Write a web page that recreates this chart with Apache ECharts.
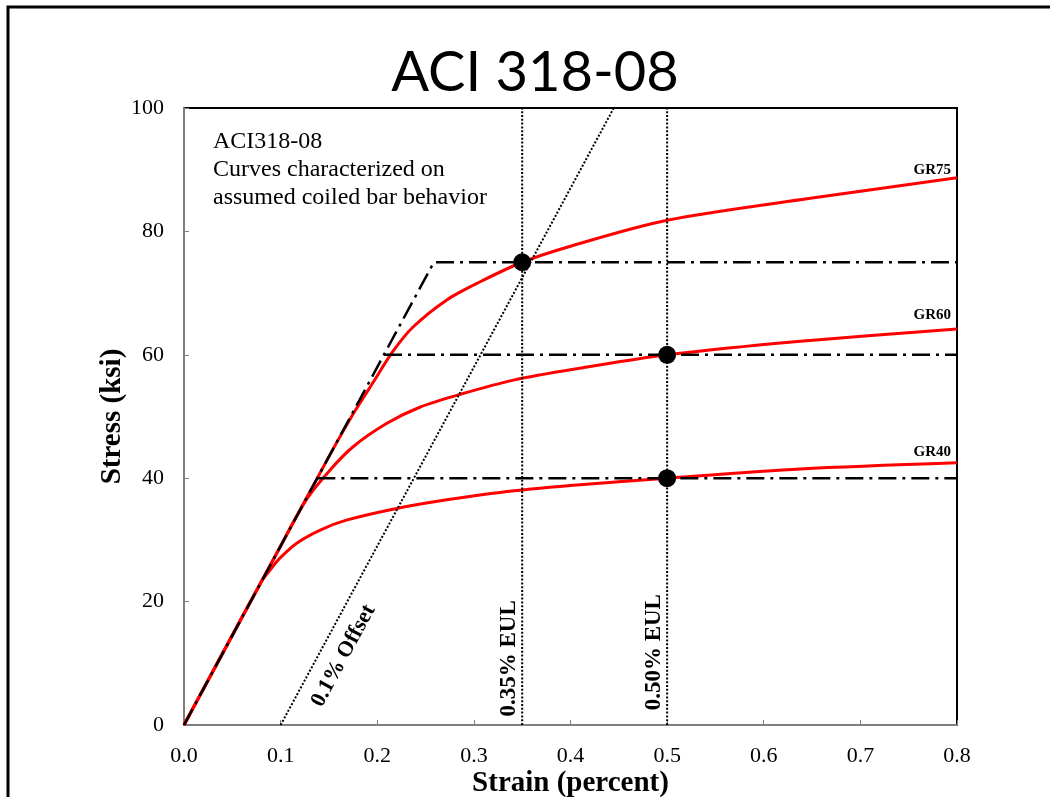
<!DOCTYPE html>
<html>
<head>
<meta charset="utf-8">
<script src="https://cdn.jsdelivr.net/npm/echarts@6/dist/echarts.min.js"></script>
<style>html,body{margin:0;padding:0;background:#fff;}#c{width:1050px;height:797px;}</style>
</head>
<body>
<div id="c"></div>
<script>
// ---- data ----
const xTicks = [0, 0.1, 0.2, 0.3, 0.4, 0.5, 0.6, 0.7, 0.8];
const yTicks = [0, 20, 40, 60, 80, 100];

const strainGR75 = [0, 0.10, 0.15, 0.175, 0.196, 0.216, 0.237, 0.272, 0.306, 0.35, 0.40, 0.50, 0.65, 0.80];
const stressGR75 = [0, 29.0, 43.5, 50.4, 55.6, 60.5, 64.5, 68.9, 71.8, 75.0, 77.6, 81.8, 85.4, 88.7];

const strainGR60 = [0, 0.10, 0.127, 0.151, 0.175, 0.210, 0.244, 0.286, 0.341, 0.413, 0.50, 0.638, 0.80];
const stressGR60 = [0, 29.0, 36.6, 41.3, 45.1, 48.9, 51.5, 53.6, 55.9, 57.9, 60.0, 62.2, 64.2];

const strainGR40 = [0, 0.08, 0.089, 0.099, 0.117, 0.141, 0.168, 0.220, 0.272, 0.327, 0.40, 0.50, 0.638, 0.80];
const stressGR40 = [0, 23.2, 25.1, 27.0, 29.5, 31.6, 33.2, 35.1, 36.5, 37.7, 38.8, 40.0, 41.5, 42.5];

const bilinearStrain = [0, 0.2586, 0.8];
const bilinearStress = [0, 75, 75];

const yieldLevels = [60, 40];
const yieldStartStrain = [0.207, 0.138];
const yieldEndStrain = 0.8;

const offsetStrain = [0.1, 0.4448];
const offsetStress = [0, 100];

const eulStrain = [0.35, 0.5];
const eulNames = ['0.35% EUL', '0.50% EUL'];

const markerStrain = [0.35, 0.5, 0.5];
const markerStress = [75, 60, 40];

const gradeNames = ['GR75', 'GR60', 'GR40'];
const gradeEndStress = [88.7, 64.2, 42.5];

const noteLines = ['ACI318-08', 'Curves characterized on', 'assumed coiled bar behavior'];

// ---- build ----
const zip = (a, b) => a.map((v, i) => [v, b[i]]);
const serif = '"Liberation Serif", "Times New Roman", serif';
const dashDot = [18, 6, 3, 6];
const dotted = [2, 1.8];
const redLine = { color: '#ff0000', width: 3 };

const series = [
  { name: 'GR75', type: 'line', data: zip(strainGR75, stressGR75), smooth: 0.3, symbol: 'none', lineStyle: redLine, z: 3 },
  { name: 'GR60', type: 'line', data: zip(strainGR60, stressGR60), smooth: 0.3, symbol: 'none', lineStyle: redLine, z: 3 },
  { name: 'GR40', type: 'line', data: zip(strainGR40, stressGR40), smooth: 0.3, symbol: 'none', lineStyle: redLine, z: 3 },
  { name: 'bilinear', type: 'line', data: zip(bilinearStrain, bilinearStress), symbol: 'none', lineStyle: { color: '#000', width: 2.5, type: dashDot }, z: 4 },
  ...yieldLevels.map((lv, i) => ({ name: 'yield' + lv, type: 'line', data: [[yieldStartStrain[i], lv], [yieldEndStrain, lv]], symbol: 'none', lineStyle: { color: '#000', width: 2.5, type: dashDot }, z: 4 })),
  { name: 'offset', type: 'line', data: zip(offsetStrain, offsetStress), symbol: 'none', lineStyle: { color: '#000', width: 2, type: dotted }, z: 4 },
  ...eulStrain.map((s, i) => ({ name: eulNames[i], type: 'line', data: [[s, 0], [s, 100]], symbol: 'none', lineStyle: { color: '#000', width: 2, type: dotted }, z: 4 })),
  { name: 'markers', type: 'scatter', data: zip(markerStrain, markerStress), symbol: 'circle', symbolSize: 18, itemStyle: { color: '#000', opacity: 1 }, z: 6 }
];

const chart = echarts.init(document.getElementById('c'), null, { renderer: 'canvas' });

chart.setOption({
  animation: false,
  backgroundColor: '#fff',
  grid: { left: 184, right: 93, top: 108, bottom: 72, containLabel: false, outerBoundsMode: 'none', show: true, borderColor: '#000', borderWidth: 2, backgroundColor: 'transparent' },
  xAxis: {
    type: 'value', min: xTicks[0], max: xTicks[xTicks.length - 1], interval: 0.1,
    name: 'Strain (percent)', nameLocation: 'middle', nameGap: 44, nameMoveOverlap: false,
    nameTextStyle: { fontFamily: serif, fontWeight: 'bold', fontSize: 29, color: '#000' },
    axisLine: { show: true, lineStyle: { color: '#7f7f7f', width: 2 } },
    axisTick: { show: true, inside: true, length: 5, lineStyle: { color: '#7f7f7f', width: 1 } },
    axisLabel: { fontFamily: serif, fontSize: 22, color: '#000', margin: 20, formatter: v => v.toFixed(1) },
    splitLine: { show: false }
  },
  yAxis: {
    type: 'value', min: yTicks[0], max: yTicks[yTicks.length - 1], interval: 20,
    name: 'Stress (ksi)', nameLocation: 'middle', nameGap: 57, nameMoveOverlap: false,
    nameTextStyle: { fontFamily: serif, fontWeight: 'bold', fontSize: 29, color: '#000' },
    axisLine: { show: true, lineStyle: { color: '#7f7f7f', width: 2 } },
    axisTick: { show: true, inside: true, length: 5, lineStyle: { color: '#7f7f7f', width: 1 } },
    axisLabel: { fontFamily: serif, fontSize: 22, color: '#000', margin: 20 },
    splitLine: { show: false }
  },
  series: series
});

// annotations placed through the axes' own scales
const px = (x, y) => chart.convertToPixel({ gridIndex: 0 }, [x, y]);
const graphics = [];

// outer slide frame (left & top edges visible)
graphics.push({ type: 'rect', shape: { x: 8, y: 7, width: 1200, height: 1000 }, style: { fill: 'none', stroke: '#000', lineWidth: 3 }, silent: true, z: 10 });

// title
graphics.push({ type: 'text', x: 535, y: 73, style: { text: 'ACI 318-08', font: '400 56px Lato, "Open Sans", sans-serif', fill: '#000', align: 'center', verticalAlign: 'middle' }, z: 10 });

// note lines
const notePos = px(0.03, 94.5);
noteLines.forEach((t, i) => {
  graphics.push({ type: 'text', x: notePos[0], y: notePos[1] + i * 28, style: { text: t, font: '24px ' + serif, fill: '#000', align: 'left', verticalAlign: 'middle' }, z: 10 });
});

// grade labels at right end
const gradeLift = [0, 6, 3];
gradeNames.forEach((g, i) => {
  const p = px(0.8, gradeEndStress[i]);
  graphics.push({ type: 'text', x: p[0] - 6, y: p[1] - gradeLift[i], style: { text: g, font: 'bold 15px ' + serif, fill: '#000', align: 'right', verticalAlign: 'bottom' }, z: 10 });
});

// EUL labels
const eulLabelStress = [10.8, 11.8];
eulStrain.forEach((s, i) => {
  const p = px(s, eulLabelStress[i]);
  graphics.push({ type: 'text', x: p[0] - 13, y: p[1], rotation: Math.PI / 2, style: { text: eulNames[i], font: 'bold 23px ' + serif, fill: '#000', align: 'center', verticalAlign: 'middle' }, z: 10 });
});

// offset label, rotated along offset line
{
  const a = px(offsetStrain[0], offsetStress[0]);
  const b = px(offsetStrain[1], offsetStress[1]);
  const ang = Math.atan2(a[1] - b[1], b[0] - a[0]);
  const p = px(0.165, 11.2);
  graphics.push({ type: 'text', x: p[0], y: p[1], rotation: ang, style: { text: '0.1% Offset', font: 'bold 22px ' + serif, fill: '#000', align: 'center', verticalAlign: 'middle' }, z: 10 });
}

chart.setOption({ graphic: graphics });
</script>
</body>
</html>
